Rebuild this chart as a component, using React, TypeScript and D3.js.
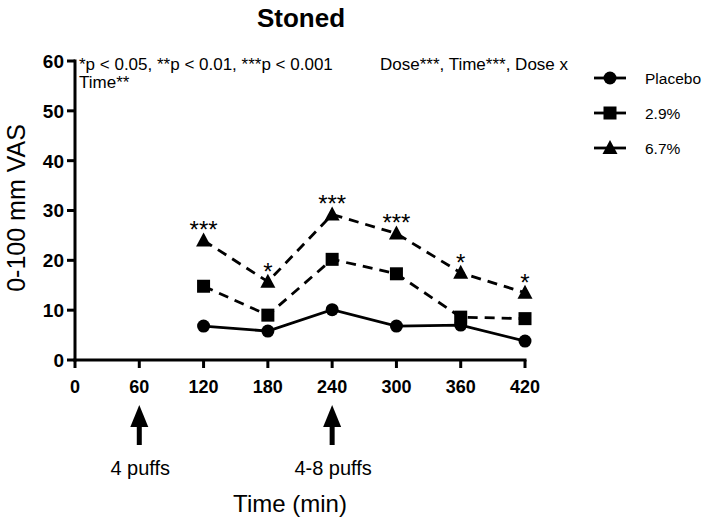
import React from "react";
import * as d3 from "d3";

const times = [120, 180, 240, 300, 360, 420];
const placebo = [6.8, 5.8, 10.1, 6.8, 7.0, 3.8];
const dose29 = [14.8, 9.0, 20.2, 17.3, 8.6, 8.3];
const dose67 = [24.0, 15.7, 29.2, 25.4, 17.5, 13.5];
const sigLabels = ["***", "*", "***", "***", "*", "*"];
const xTicks = [0, 60, 120, 180, 240, 300, 360, 420];
const yTicks = [0, 10, 20, 30, 40, 50, 60];
const seriesNames = ["Placebo", "2.9%", "6.7%"];
const arrows = [
  { t: 60, label: "4 puffs" },
  { t: 240, label: "4-8 puffs" },
];

const FONT = "'Liberation Sans', Arial, Helvetica, sans-serif";

export default function App() {
  const W = 706, H = 525;
  const x = d3.scaleLinear().domain([0, 420]).range([75, 525]);
  const y = d3.scaleLinear().domain([0, 60]).range([360, 61]);
  const line = d3.line<number>().x((_, i) => x(times[i])).y((d) => y(d));

  const series = [
    { name: seriesNames[0], data: placebo, dash: "none", shape: "circle" },
    { name: seriesNames[1], data: dose29, dash: "10,7", shape: "square" },
    { name: seriesNames[2], data: dose67, dash: "10,7", shape: "triangle" },
  ];

  const marker = (shape: string, cx: number, cy: number, key: any) => {
    if (shape === "circle") return <circle key={key} cx={cx} cy={cy} r={6.5} fill="#000" />;
    if (shape === "square") return <rect key={key} x={cx - 6.5} y={cy - 6.5} width={13} height={13} fill="#000" />;
    return <path key={key} d={`M${cx},${cy - 8} L${cx + 7.5},${cy + 6} L${cx - 7.5},${cy + 6} Z`} fill="#000" />;
  };

  return (
    <svg width={W} height={H} style={{ position: "absolute", left: 0, top: 0, background: "#fff" }} fontFamily={FONT}>
      <rect width={W} height={H} fill="#fff" />
      <text x={301} y={27} textAnchor="middle" fontSize={26} fontWeight="bold">Stoned</text>

      {/* y axis */}
      <line x1={75} x2={75} y1={y(0) + 1.5} y2={y(60) - 1.5} stroke="#000" strokeWidth={3} />
      {yTicks.map((t) => (
        <g key={t}>
          <line x1={67} x2={75} y1={y(t)} y2={y(t)} stroke="#000" strokeWidth={3} />
          <text x={64} y={y(t)} dy="0.36em" textAnchor="end" fontSize={19} fontWeight="bold">{t}</text>
        </g>
      ))}
      <text transform={`translate(25,${208}) rotate(-90)`} textAnchor="middle" fontSize={25}>0-100 mm VAS</text>

      {/* x axis */}
      <line x1={73.5} x2={x(420) + 1.5} y1={y(0)} y2={y(0)} stroke="#000" strokeWidth={3} />
      {xTicks.map((t) => (
        <g key={t}>
          <line x1={x(t)} x2={x(t)} y1={y(0)} y2={y(0) + 8} stroke="#000" strokeWidth={3} />
          <text x={x(t)} y={393} textAnchor="middle" fontSize={18} fontWeight="bold">{t}</text>
        </g>
      ))}
      <text x={290} y={512} textAnchor="middle" fontSize={24}>Time (min)</text>

      {/* arrows */}
      {arrows.map((a) => (
        <g key={a.t}>
          <path d={`M${x(a.t)},405 L${x(a.t) + 9},427 L${x(a.t) - 9},427 Z`} fill="#000" />
          <rect x={x(a.t) - 2.5} y={425} width={5} height={20} fill="#000" />
          <text x={x(a.t) + 1} y={475} textAnchor="middle" fontSize={20}>{a.label}</text>
        </g>
      ))}

      {/* annotations */}
      <text x={79} y={70} fontSize={17}>*p &lt; 0.05, **p &lt; 0.01, ***p &lt; 0.001</text>
      <text x={79} y={88} fontSize={17}>Time**</text>
      <text x={380} y={70} fontSize={17}>Dose***, Time***, Dose x</text>

      {/* series */}
      {series.map((s) => (
        <g key={s.name}>
          <path d={line(s.data) || ""} fill="none" stroke="#000" strokeWidth={2.8} strokeDasharray={s.dash === "none" ? undefined : s.dash} />
          {s.data.map((v, i) => marker(s.shape, x(times[i]), y(v), i))}
        </g>
      ))}

      {/* significance stars */}
      {sigLabels.map((l, i) => (
        <text key={i} x={x(times[i])} y={y(dose67[i]) - 2} textAnchor="middle" fontSize={24}>{l}</text>
      ))}

      {/* legend */}
      {series.map((s, i) => {
        const ly = 78 + i * 35;
        return (
          <g key={s.name}>
            <line x1={594} x2={626} y1={ly} y2={ly} stroke="#000" strokeWidth={2.8} />
            {marker(s.shape, 610, ly, "m")}
            <text x={645} y={ly} dy="0.36em" fontSize={15.5}>{s.name}</text>
          </g>
        );
      })}
    </svg>
  );
}
